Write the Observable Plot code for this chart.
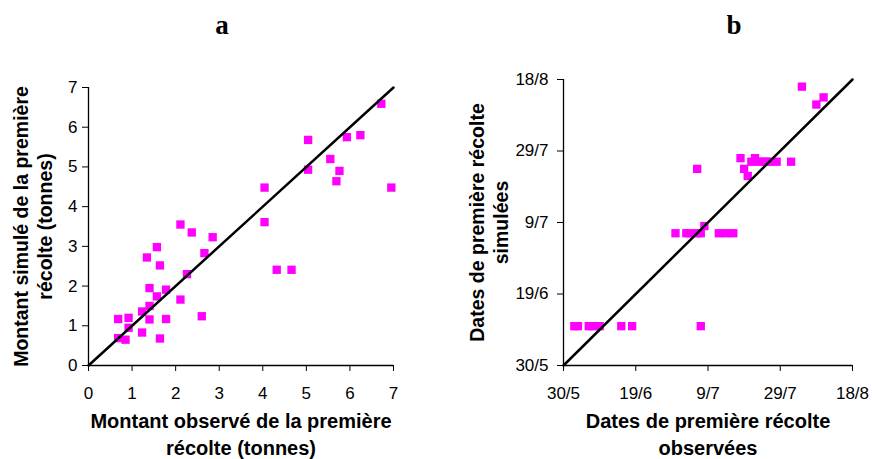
<!DOCTYPE html>
<html><head><meta charset="utf-8">
<script src="https://cdn.jsdelivr.net/npm/d3@7"></script>
<script src="https://cdn.jsdelivr.net/npm/@observablehq/plot@0.6"></script>
<style>
body{margin:0;background:#fff}
#wrap{position:relative;width:872px;height:459px;overflow:hidden}
#wrap > svg{position:absolute;top:0}
</style></head><body><div id="wrap"></div>
<script>
// Panel a: amounts (tonnes)
const amountObserved  = [6.72,5.04,5.93,6.24,5.55,5.04,5.76,5.69,6.95,4.04,4.04,4.32,4.66,2.11,2.37,2.85,1.57,1.34,1.64,2.66,2.26,1.40,1.78,1.57,2.11,1.23,1.40,1.40,1.78,2.60,0.68,0.92,0.92,1.23,0.68,0.85,1.64];
const amountSimulated = [6.59,5.68,5.75,5.80,5.20,4.93,4.90,4.64,4.48,4.48,3.61,2.41,2.41,3.55,3.35,3.23,2.98,2.72,2.52,2.83,2.30,1.95,1.91,1.74,1.66,1.36,1.50,1.16,1.17,1.24,1.17,1.20,0.95,0.83,0.69,0.65,0.68];
const amountTicks = [0,1,2,3,4,5,6,7];

// Panel b: dates (d/m)
const dateObserved  = ["2/6","3/6","6/6","7/6","9/6","15/6","18/6","7/7",
                       "30/6","3/7","4/7","6/7","7/7","12/7","14/7","16/7",
                       "8/7","6/7",
                       "21/7","22/7","23/7","24/7","25/7","26/7","28/7","1/8",
                       "18/7","19/7","20/7","4/8","8/8","10/8"];
const dateSimulated = ["10/6","10/6","10/6","10/6","10/6","10/6","10/6","10/6",
                       "6/7","6/7","6/7","6/7","6/7","6/7","6/7","6/7",
                       "8/7","24/7",
                       "26/7","27/7","26/7","26/7","26/7","26/7","26/7","26/7",
                       "27/7","24/7","22/7","16/8","11/8","13/8"];
const dateTicks = ["30/5","19/6","9/7","29/7","18/8"];

const titles = ["a","b"];
const labelsA = {x:"Montant observé de la première\nrécolte (tonnes)", y:"Montant simulé de la première\nrécolte (tonnes)"};
const labelsB = {x:"Dates de première récolte\nobservées", y:"Dates de première récolte\nsimulées"};

const parseDM = s => { const [d,m] = s.split("/").map(Number); return new Date(Date.UTC(2000, m-1, d)); };
const fmtDM = d3.utcFormat("%-d/%-m");

const FONT = "'Liberation Sans', Arial, sans-serif";
const SERIF = "'Liberation Serif', 'DejaVu Serif', serif";
const MAG = "#ff00ff";
const baseStyle = {fontFamily: FONT, fontSize: "17px", color: "#000", background: "#fff", overflow: "visible"};

const dataA = amountObserved.map((x,i) => ({x, y: amountSimulated[i]}));
const domA = [amountTicks[0], amountTicks[amountTicks.length-1]];

const chartA = Plot.plot({
  width: 436, height: 459,
  marginLeft: 88, marginRight: 43, marginTop: 87, marginBottom: 94,
  style: baseStyle,
  x: {domain: domA},
  y: {domain: domA},
  marks: [
    Plot.ruleX([domA[0]], {stroke: "#000", strokeWidth: 1.3}),
    Plot.ruleY([domA[0]], {stroke: "#000", strokeWidth: 1.3}),
    Plot.axisX({ticks: amountTicks, tickFormat: d3.format("d"), tickSize: 6, tickPadding: 15, label: null, fontSize: 17, stroke: "#000"}),
    Plot.axisY({ticks: amountTicks, tickFormat: d3.format("d"), tickSize: 6, tickPadding: 5, label: null, fontSize: 17, stroke: "#000"}),
    Plot.dot(dataA, {x: "x", y: "y", symbol: "square", r: 4.7, fill: MAG, stroke: "none"}),
    Plot.line([{x: domA[0], y: domA[0]}, {x: domA[1], y: domA[1]}], {x: "x", y: "y", stroke: "#000", strokeWidth: 2.5}),
    Plot.text([labelsA.x], {frameAnchor: "bottom", dy: 67, lineAnchor: "middle", lineHeight: 1.36, fontWeight: "bold", fontSize: 20}),
    Plot.text([labelsA.y], {frameAnchor: "left", dx: -56, rotate: -90, textAnchor: "middle", lineAnchor: "middle", lineHeight: 1.22, fontWeight: "bold", fontSize: 19.5}),
    Plot.text([titles[0]], {frameAnchor: "top", dy: -73, dx: -19, fontWeight: "bold", fontSize: 27, fontFamily: SERIF})
  ]
});
chartA.style.left = "0px";

const dataB = dateObserved.map((o,i) => ({x: parseDM(o), y: parseDM(dateSimulated[i])}));
const tickDates = dateTicks.map(parseDM);
const domB = [tickDates[0], tickDates[tickDates.length-1]];

const chartB = Plot.plot({
  width: 436, height: 459,
  marginLeft: 127, marginRight: 20, marginTop: 79, marginBottom: 94,
  style: baseStyle,
  x: {type: "utc", domain: domB},
  y: {type: "utc", domain: domB},
  marks: [
    Plot.ruleX([domB[0]], {stroke: "#000", strokeWidth: 1.3}),
    Plot.ruleY([domB[0]], {stroke: "#000", strokeWidth: 1.3}),
    Plot.axisX({ticks: tickDates, tickFormat: fmtDM, tickSize: 6, tickPadding: 15, label: null, fontSize: 17, stroke: "#000"}),
    Plot.axisY({ticks: tickDates, tickFormat: fmtDM, tickSize: 6, tickPadding: 9, label: null, fontSize: 17, stroke: "#000"}),
    Plot.dot(dataB, {x: "x", y: "y", symbol: "square", r: 4.7, fill: MAG, stroke: "none"}),
    Plot.line([{x: domB[0], y: domB[0]}, {x: domB[1], y: domB[1]}], {x: "x", y: "y", stroke: "#000", strokeWidth: 2.5}),
    Plot.text([labelsB.x], {frameAnchor: "bottom", dy: 67, lineAnchor: "middle", lineHeight: 1.36, fontWeight: "bold", fontSize: 20}),
    Plot.text([labelsB.y], {frameAnchor: "left", dx: -75, rotate: -90, textAnchor: "middle", lineAnchor: "middle", lineHeight: 1.22, fontWeight: "bold", fontSize: 19.5}),
    Plot.text([titles[1]], {frameAnchor: "top", dy: -65, dx: 26, fontWeight: "bold", fontSize: 27, fontFamily: SERIF})
  ]
});
chartB.style.left = "436px";

const wrap = document.getElementById("wrap");
wrap.appendChild(chartA);
wrap.appendChild(chartB);
</script>
</body></html>
